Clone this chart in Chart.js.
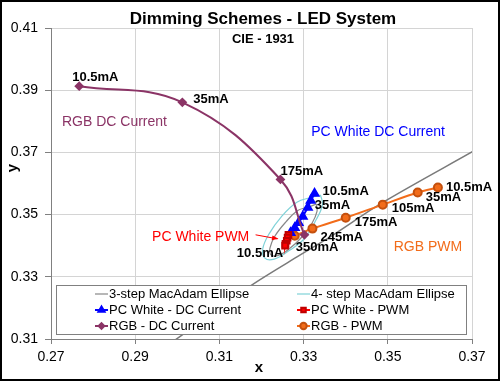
<!DOCTYPE html>
<html>
<head>
<meta charset="utf-8">
<script src="https://cdn.jsdelivr.net/npm/chart.js@4.4.1/dist/chart.umd.min.js"></script>
<style>
  html, body { margin: 0; padding: 0; background: #fff; }
  canvas { display: block; }
</style>
</head>
<body>
<canvas id="cie" width="500" height="381"></canvas>
<script>
/* ===================== DATA ===================== */

const xTicks = [0.27, 0.29, 0.31, 0.33, 0.35, 0.37];
const yTicks = [0.31, 0.33, 0.35, 0.37, 0.39, 0.41];

// 3-step and 4-step MacAdam ellipses
const ellipse3X = [0.3330, 0.3332, 0.3320, 0.3296, 0.3266, 0.3240, 0.3223, 0.3220, 0.3232, 0.3257, 0.3286, 0.3313, 0.3330];
const ellipse3Y = [0.3534, 0.3511, 0.3472, 0.3428, 0.3390, 0.3369, 0.3370, 0.3392, 0.3431, 0.3475, 0.3513, 0.3525, 0.3534];
const ellipse4X = [0.3340, 0.3345, 0.3330, 0.3300, 0.3264, 0.3230, 0.3208, 0.3203, 0.3218, 0.3247, 0.3284, 0.3318, 0.3340];
const ellipse4Y = [0.3563, 0.3533, 0.3484, 0.3420, 0.3383, 0.3357, 0.3360, 0.3390, 0.3438, 0.3493, 0.3540, 0.3555, 0.3563];

// black body locus (grey diagonal line)
const locusX = [0.2995, 0.3174, 0.3293, 0.3364, 0.3488, 0.3702];
const locusY = [0.3097, 0.3271, 0.3371, 0.3429, 0.3539, 0.3703];

const pcDcX = [0.3326, 0.3317, 0.3310, 0.3298, 0.3288, 0.3279, 0.3269];
const pcDcY = [0.3568, 0.3545, 0.3523, 0.3494, 0.3474, 0.3458, 0.3442];
const pcDcLabels = ["10.5mA", "35mA", "", "", "", "", ""];

const pcPwmX = [0.3264, 0.3262, 0.3260, 0.3257, 0.3256];
const pcPwmY = [0.3435, 0.3426, 0.3416, 0.3406, 0.3400];
const pcPwmLabels = ["", "", "", "", "10.5mA"];

const rgbDcX = [0.2767, 0.3012, 0.3245, 0.3302];
const rgbDcY = [0.3913, 0.3861, 0.3613, 0.3435];
const rgbDcLabels = ["10.5mA", "35mA", "175mA", ""];

const rgbPwmX = [0.3619, 0.3571, 0.3488, 0.3400, 0.3321, 0.3279];
const rgbPwmY = [0.3587, 0.3571, 0.3532, 0.3490, 0.3455, 0.3432];
const rgbPwmLabels = ["10.5mA", "35mA", "105mA", "175mA", "245mA", "350mA"];

const seriesNames = ["3-step MacAdam Ellipse", "4- step MacAdam Ellipse",
    "PC White - DC Current", "PC White - PWM", "RGB - DC Current", "RGB - PWM"];

const toPoints = (xs, ys) => xs.map((x, i) => ({ x, y: ys[i] }));

/* ===================== STYLE ===================== */

const FONT = "'Liberation Sans', Arial, sans-serif";
const C_GREY = "#808080";
const C_CYAN = "#7fd2d8";
const C_BLUE = "#0000ff";
const C_RED = "#ff0000";
const C_PURPLE = "#8b3466";
const C_ORANGE = "#f26c1a";

// label offsets in pixels from their point: [dx, dy, align]
const labelOffsets = {
    pcDc: [[8, -2, "left"], [4, 5, "left"]],
    pcPwm: { 4: [-2, 8, "right"] },
    rgbDc: [[-7, -9, "left"], [11, -3, "left"], [0, -8, "left"]],
    rgbPwm: [[8, 0, "left"], [8, 5, "left"], [9, 4, "left"], [9, 5, "left"], [8, 9, "left"], [1, 12, "left"]],
};

// free text notes placed in data coordinates
const notes = [
    { text: "RGB DC Current", x: 0.2726, y: 0.3797, color: C_PURPLE },
    { text: "PC White DC Current", x: 0.3318, y: 0.3765, color: C_BLUE },
    { text: "PC White PWM", x: 0.2940, y: 0.3429, color: C_RED },
    { text: "RGB PWM", x: 0.3514, y: 0.3394, color: C_ORANGE },
];

/* ===================== PLUGIN ===================== */

const decorations = {
    id: "decorations",
    beforeDraw(chart) {
        const c = chart.ctx;
        c.save();
        c.fillStyle = "#fff";
        c.fillRect(0, 0, chart.width, chart.height);
        c.restore();
    },
    afterDatasetsDraw(chart) {
        const c = chart.ctx;
        const xs = chart.scales.x, ys = chart.scales.y;
        const area = chart.chartArea;
        c.save();

        // point labels
        c.font = "bold 13px " + FONT;
        c.fillStyle = "#000";
        c.textBaseline = "middle";
        const drawLabels = (dsIndex, texts, offs) => {
            const meta = chart.getDatasetMeta(dsIndex);
            texts.forEach((t, i) => {
                if (!t || !offs[i]) return;
                const el = meta.data[i];
                c.textAlign = offs[i][2];
                c.fillText(t, el.x + offs[i][0], el.y + offs[i][1]);
            });
        };
        drawLabels(2, pcDcLabels, labelOffsets.pcDc);
        drawLabels(3, pcPwmLabels, labelOffsets.pcPwm);
        drawLabels(4, rgbDcLabels, labelOffsets.rgbDc);
        drawLabels(5, rgbPwmLabels, labelOffsets.rgbPwm);

        // series notes
        c.font = "14px " + FONT;
        c.textAlign = "left";
        notes.forEach(n => {
            c.fillStyle = n.color;
            c.fillText(n.text, xs.getPixelForValue(n.x), ys.getPixelForValue(n.y));
        });

        // arrow from "PC White PWM" towards the red squares
        const ax0 = xs.getPixelForValue(0.3186), ay0 = ys.getPixelForValue(0.3435);
        const ax1 = xs.getPixelForValue(0.3238), ay1 = ys.getPixelForValue(0.3422);
        c.strokeStyle = C_RED;
        c.fillStyle = C_RED;
        c.lineWidth = 1;
        c.beginPath();
        c.moveTo(ax0, ay0);
        c.lineTo(ax1, ay1);
        c.stroke();
        const ang = Math.atan2(ay1 - ay0, ax1 - ax0);
        c.beginPath();
        c.moveTo(ax1 + 1, ay1);
        c.lineTo(ax1 - 6 * Math.cos(ang - 0.4), ay1 - 6 * Math.sin(ang - 0.4));
        c.lineTo(ax1 - 6 * Math.cos(ang + 0.4), ay1 - 6 * Math.sin(ang + 0.4));
        c.closePath();
        c.fill();

        // CIE subtitle inside the plot
        c.fillStyle = "#000";
        c.textAlign = "center";
        c.font = "bold 13px " + FONT;
        c.fillText("CIE - 1931", 263, area.top + 11);

        // legend box
        const lx = 56, ly = 285, lw = 410, lh = 49;
        c.fillStyle = "#fff";
        c.fillRect(lx, ly, lw, lh);
        c.strokeStyle = C_GREY;
        c.lineWidth = 1;
        c.strokeRect(lx + 0.5, ly + 0.5, lw, lh);
        c.font = "13px " + FONT;
        c.textAlign = "left";
        const cols = [95, 297];
        const rows = [294, 310, 326];
        chart.data.datasets.slice(0, 6).forEach((ds, i) => {
            const sx = cols[i % 2], sy = rows[Math.floor(i / 2)];
            c.strokeStyle = ds.borderColor;
            c.lineWidth = ds.borderWidth;
            c.beginPath();
            c.moveTo(sx, sy);
            c.lineTo(sx + 13, sy);
            c.stroke();
            if (ds.pointRadius > 0) {
                c.fillStyle = ds.pointBackgroundColor;
                c.strokeStyle = ds.pointBorderColor;
                Chart.helpers.drawPoint(c, {
                    pointStyle: ds.pointStyle,
                    radius: ds.pointRadius * 0.8,
                    borderWidth: 1,
                    rotation: 0,
                }, sx + 6.5, sy);
            }
            c.fillStyle = "#000";
            c.fillText(seriesNames[i], sx + 14, sy);
        });

        c.restore();
    },
    afterDraw(chart) {
        const c = chart.ctx;
        c.save();
        // title
        c.fillStyle = "#000";
        c.textAlign = "center";
        c.textBaseline = "middle";
        c.font = "bold 17px " + FONT;
        c.fillText("Dimming Schemes - LED System", 263, 19);
        // axis titles
        c.font = "bold 15px " + FONT;
        c.fillText("x", 259, 368);
        c.translate(13, 168);
        c.rotate(-Math.PI / 2);
        c.fillText("y", 0, 0);
        c.restore();
        // frame
        c.save();
        c.strokeStyle = "#000";
        c.lineWidth = 2;
        c.strokeRect(1, 1, chart.width - 2, chart.height - 2);
        c.restore();
    },
};

/* ===================== CHART ===================== */

const line = (pts, color, width, extra) => Object.assign({
    data: pts,
    showLine: true,
    borderColor: color,
    backgroundColor: color,
    borderWidth: width,
    pointRadius: 0,
    tension: 0.4,
    fill: false,
}, extra || {});

new Chart(document.getElementById("cie"), {
    type: "scatter",
    data: {
        datasets: [
            line(toPoints(ellipse3X, ellipse3Y), "#888888", 1.2, { order: 6 }),
            line(toPoints(ellipse4X, ellipse4Y), C_CYAN, 1.2, { order: 7 }),
            line(toPoints(pcDcX, pcDcY), C_BLUE, 2, {
                tension: 0, pointStyle: "triangle", pointRadius: 4.5,
                pointBackgroundColor: C_BLUE, pointBorderColor: C_BLUE, order: 3,
            }),
            line(toPoints(pcPwmX, pcPwmY), C_RED, 2, {
                tension: 0, pointStyle: "rect", pointRadius: 4,
                pointBackgroundColor: C_RED, pointBorderColor: "#c00000", order: 1,
            }),
            line(toPoints(rgbDcX, rgbDcY), C_PURPLE, 2, {
                tension: 0.4, pointStyle: "rectRot", pointRadius: 3.5,
                pointBackgroundColor: C_PURPLE, pointBorderColor: C_PURPLE, order: 2,
            }),
            line(toPoints(rgbPwmX, rgbPwmY), C_ORANGE, 2, {
                tension: 0.3, pointStyle: "circle", pointRadius: 4,
                pointBackgroundColor: C_ORANGE, pointBorderColor: "#c4500e", order: 4,
            }),
            line(toPoints(locusX, locusY), "#7a7a7a", 1.5, { order: 8, tension: 0.3 }),
        ],
    },
    plugins: [decorations],
    options: {
        responsive: false,
        animation: false,
        events: [],
        layout: { padding: { top: 28, right: 28, left: 0, bottom: 0 } },
        plugins: {
            legend: { display: false },
            tooltip: { enabled: false },
            title: { display: false },
        },
        scales: {
            x: {
                type: "linear",
                min: 0.27,
                max: 0.37,
                afterFit: s => { s.height = 42; },
                afterBuildTicks: s => { s.ticks = xTicks.map(v => ({ value: v })); },
                ticks: {
                    font: { family: FONT, size: 14 },
                    color: "#000",
                    padding: 5,
                    callback: v => v.toFixed(2),
                },
                grid: { color: "#d4d4d4", tickLength: 5, tickColor: C_GREY },
                border: { color: C_GREY, width: 1 },
            },
            y: {
                type: "linear",
                min: 0.31,
                max: 0.41,
                afterFit: s => { s.width = 51; },
                afterBuildTicks: s => { s.ticks = yTicks.map(v => ({ value: v })); },
                ticks: {
                    font: { family: FONT, size: 14 },
                    color: "#000",
                    padding: 7,
                    callback: v => v.toFixed(2),
                },
                grid: { color: "#d4d4d4", tickLength: 6, tickColor: C_GREY },
                border: { color: C_GREY, width: 1 },
            },
        },
    },
});
</script>
</body>
</html>
